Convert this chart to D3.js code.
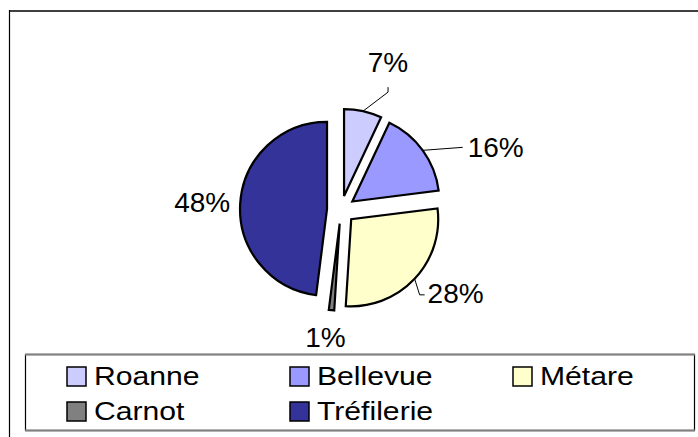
<!DOCTYPE html>
<html>
<head>
<meta charset="utf-8">
<script src="https://cdn.jsdelivr.net/npm/d3@7"></script>
<style>
  html, body { margin: 0; padding: 0; background: #fff; }
  svg { display: block; font-family: "Liberation Sans", Arial, sans-serif; }
</style>
</head>
<body>
<svg id="chart" width="698" height="437"></svg>
<script>
// ---- data ----
const categories = ["Roanne", "Bellevue", "Métare", "Carnot", "Tréfilerie"];
const values = [7, 16, 28, 1, 48];
const labels = ["7%", "16%", "28%", "1%", "48%"];
const colors = ["#CCCCFF", "#9999FF", "#FFFFCC", "#808080", "#333399"];

// ---- layout (label placement relative to slice outer point) ----
const labelLayout = [
  { text: [25, -39], anchor: "middle", leader: [[25, -19], [25, -24]] },
  { text: [45, 7], anchor: "start", leader: [[40, -3]] },
  { text: [13, 24], anchor: "start", leader: [[5, 16], [10, 16]] },
  { text: [-6, 37], anchor: "middle", leader: [] },
  { text: [-10, 8.5], anchor: "end", leader: [] }
];

const svg = d3.select("#chart");
const W = 698, H = 437;

// outer chart frame (partially cropped)
svg.append("line").attr("x1", 9).attr("x2", W + 5).attr("y1", 11).attr("y2", 11)
  .attr("stroke", "#404040").attr("stroke-width", 2);
svg.append("line").attr("x1", 9.5).attr("x2", 9.5).attr("y1", 10).attr("y2", H + 5)
  .attr("stroke", "#000").attr("stroke-width", 1.2);

const cx = 341, cy = 209.7, R = 87, explode = 14;

const pie = d3.pie().sort(null).value(d => d)(values);
const arc = d3.arc().innerRadius(0).outerRadius(R);

const g = svg.append("g").attr("transform", `translate(${cx},${cy})`);

pie.forEach((p, i) => {
  const mid = (p.startAngle + p.endAngle) / 2;
  const ox = explode * Math.sin(mid), oy = -explode * Math.cos(mid);
  const sg = g.append("g").attr("transform", `translate(${ox},${oy})`);
  sg.append("path").attr("d", arc(p))
    .attr("fill", colors[i]).attr("stroke", "#000").attr("stroke-width", 2.2)
    .attr("stroke-linejoin", "miter");

  const px = R * Math.sin(mid), py = -R * Math.cos(mid);
  const L = labelLayout[i];
  if (L.leader.length) {
    const pts = [[px, py]].concat(L.leader.map(o => [px + o[0], py + o[1]]));
    sg.append("path").attr("d", d3.line()(pts))
      .attr("fill", "none").attr("stroke", "#000").attr("stroke-width", 1);
  }
  sg.append("text")
    .attr("x", px + L.text[0]).attr("y", py + L.text[1])
    .attr("text-anchor", L.anchor)
    .attr("font-size", 28).attr("fill", "#000")
    .text(labels[i]);
});

// legend
const lx = 25, ly = 354, lw = 669, lh = 76;
svg.append("rect").attr("x", lx + 0.5).attr("y", ly + 0.5).attr("width", lw).attr("height", lh)
  .attr("fill", "#fff").attr("stroke", "#000").attr("stroke-width", 1.2);
svg.append("line").attr("x1", lx).attr("x2", lx + lw + 1).attr("y1", ly + 0.5).attr("y2", ly + 0.5)
  .attr("stroke", "#808080").attr("stroke-width", 2);
svg.append("line").attr("x1", lx).attr("x2", lx + lw + 1).attr("y1", ly + lh + 0.5).attr("y2", ly + lh + 0.5)
  .attr("stroke", "#808080").attr("stroke-width", 2);

const colX = d3.scalePoint().domain([0, 1, 2]).range([67, 513]);
const rowY = d3.scalePoint().domain([0, 1]).range([385, 420]);

categories.forEach((c, i) => {
  const col = i % 3, row = Math.floor(i / 3);
  const x = colX(col), y = rowY(row);
  svg.append("rect").attr("x", x).attr("y", y - 18).attr("width", 19).attr("height", 19)
    .attr("fill", colors[i]).attr("stroke", "#000").attr("stroke-width", 1.5);
  svg.append("text")
    .attr("transform", `translate(${x + 27},${y}) scale(1.16,1)`)
    .attr("font-size", 26).attr("fill", "#000").text(c);
});
</script>
</body>
</html>
